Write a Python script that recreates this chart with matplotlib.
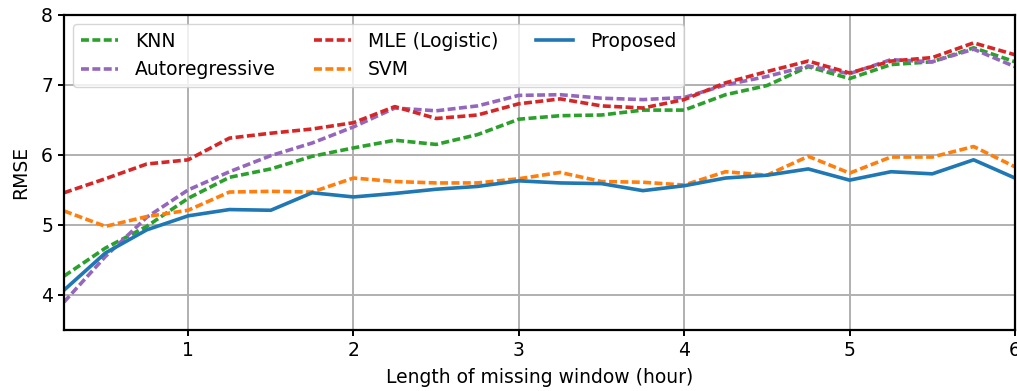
import numpy as np
import matplotlib
matplotlib.use('Agg')
import matplotlib.pyplot as plt

hours = [0.25, 0.5, 0.75, 1.0, 1.25, 1.5, 1.75, 2.0, 2.25, 2.5, 2.75, 3.0,
         3.25, 3.5, 3.75, 4.0, 4.25, 4.5, 4.75, 5.0, 5.25, 5.5, 5.75, 6.0]

knn = [4.27, 4.67, 4.98, 5.38, 5.68, 5.80, 5.98, 6.10, 6.21, 6.15, 6.29, 6.51,
       6.56, 6.57, 6.64, 6.64, 6.86, 6.99, 7.26, 7.09, 7.29, 7.33, 7.53, 7.33]
autoreg = [3.90, 4.55, 5.11, 5.50, 5.76, 5.99, 6.17, 6.40, 6.67, 6.63, 6.70, 6.85,
           6.86, 6.81, 6.79, 6.82, 7.00, 7.12, 7.27, 7.16, 7.36, 7.33, 7.51, 7.26]
mle = [5.46, 5.66, 5.87, 5.93, 6.24, 6.31, 6.37, 6.46, 6.69, 6.52, 6.57, 6.73,
       6.80, 6.70, 6.67, 6.79, 7.03, 7.19, 7.34, 7.17, 7.34, 7.39, 7.60, 7.43]
svm = [5.20, 4.98, 5.12, 5.21, 5.47, 5.48, 5.47, 5.67, 5.62, 5.60, 5.60, 5.66,
       5.75, 5.62, 5.61, 5.57, 5.76, 5.71, 5.98, 5.74, 5.97, 5.97, 6.12, 5.83]
proposed = [4.07, 4.60, 4.93, 5.13, 5.22, 5.21, 5.46, 5.40, 5.45, 5.51, 5.55, 5.63,
            5.60, 5.59, 5.49, 5.56, 5.67, 5.71, 5.80, 5.64, 5.76, 5.73, 5.93, 5.67]

plt.rcParams.update({
    'font.size': 13.5,
    'axes.linewidth': 1.6,
    'xtick.major.width': 1.4,
    'ytick.major.width': 1.4,
    'xtick.major.size': 4.5,
    'ytick.major.size': 4.5,
})

fig, ax = plt.subplots(figsize=(10.17, 3.91), dpi=100)
fig.subplots_adjust(left=0.063, right=0.998, top=0.962, bottom=0.156)

lw = 2.6
dash = (2.2, 0.95)
ax.plot(hours, knn, color='#2ca02c', dashes=dash, lw=lw, label='KNN')
ax.plot(hours, autoreg, color='#9467bd', dashes=dash, lw=lw, label='Autoregressive')
ax.plot(hours, mle, color='#d62728', dashes=dash, lw=lw, label='MLE (Logistic)')
ax.plot(hours, svm, color='#ff7f0e', dashes=dash, lw=lw, label='SVM')
ax.plot(hours, proposed, color='#1f77b4', linestyle='-', lw=lw, label='Proposed')

ax.set_xlim(0.25, 6)
ax.set_ylim(3.5, 8)
ax.set_xticks([1, 2, 3, 4, 5, 6])
ax.set_yticks([4, 5, 6, 7, 8])
ax.grid(True, color='#b0b0b0', linewidth=1.4)
ax.set_axisbelow(True)
ax.set_xlabel('Length of missing window (hour)', labelpad=6)
ax.set_ylabel('RMSE', labelpad=8)
ax.legend(loc='upper left', ncol=3, fontsize=13.5, columnspacing=2.0,
          handlelength=2.0, handletextpad=0.9)

fig.savefig('out.png', dpi=100)
